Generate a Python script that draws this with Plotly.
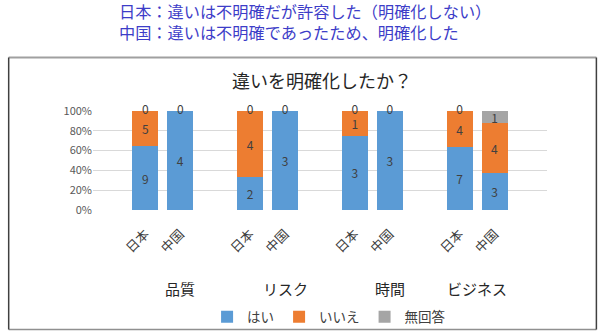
import plotly.graph_objects as go

groups = ["品質", "リスク", "時間", "ビジネス"]
countries = ["日本", "中国"]
series_names = ["はい", "いいえ", "無回答"]
colors = ["#5B9BD5", "#ED7D31", "#A5A5A5"]

# values per bar in order: 品質-日本, 品質-中国, リスク-日本, リスク-中国, 時間-日本, 時間-中国, ビジネス-日本, ビジネス-中国
hai = [9, 4, 2, 3, 3, 3, 7, 3]
iie = [5, 0, 4, 0, 1, 0, 4, 4]
mukaito = [0, 0, 0, 0, 0, 0, 0, 1]
series = [hai, iie, mukaito]

y_ticks = [0, 20, 40, 60, 80, 100]
y_tick_text = ["0%", "20%", "40%", "60%", "80%", "100%"]

title_text = "違いを明確化したか？"
note_lines = ["日本：違いは不明確だが許容した（明確化しない）",
              "中国：違いは不明確であったため、明確化した"]

FONT = "Noto Sans CJK JP"

# slot layout: each group takes 3 slots (2 bars + blank)
xpos = [1 + 3 * g + k for g in range(len(groups)) for k in range(len(countries))]
tick_text = [c for g in groups for c in countries]
group_label_x = [2, 5, 8, 10.5]

fig = go.Figure()
for name, vals, col in zip(series_names, series, colors):
    fig.add_trace(go.Bar(
        x=xpos, y=vals, name=name, marker=dict(color=col, line=dict(width=0)),
        width=0.74, text=[str(v) if v else "" for v in vals],
        textposition="inside", insidetextanchor="middle", textangle=0,
        constraintext="none",
        textfont=dict(family=FONT, size=12, color="#404040"),
    ))

# zero-value labels (drawn at their stacked position)
totals = [sum(s[i] for s in series) for i in range(len(xpos))]
zx, zy = [], []
for i in range(len(xpos)):
    cum = 0
    seen = False
    for s in series:
        cum += s[i]
        if s[i] == 0 and not seen:
            zx.append(xpos[i])
            zy.append(cum / totals[i] * 100)
            seen = True
fig.add_trace(go.Scatter(x=zx, y=zy, mode="text", text=["0"] * len(zx),
                         textfont=dict(family=FONT, size=12, color="#404040"),
                         showlegend=False, hoverinfo="skip", cliponaxis=False))

fig.update_layout(
    barmode="stack", barnorm="percent",
    width=607, height=331,
    margin=dict(l=92.5, r=59.5, t=111, b=121, autoexpand=False),
    paper_bgcolor="white", plot_bgcolor="white",
    font=dict(family=FONT, color="#595959"),
    showlegend=True,
    legend=dict(orientation="h", x=0.52, xanchor="center", y=-1.08, yanchor="middle",
                traceorder="normal", bgcolor="rgba(0,0,0,0)",
                font=dict(family=FONT, size=13.5, color="#404040"),
                itemwidth=30, tracegroupgap=0),
    xaxis=dict(range=[-0.5, 12.5], tickvals=xpos, ticktext=tick_text, tickangle=-45,
               showgrid=False, zeroline=False, showline=False, ticks="",
               ticklabelstandoff=13, automargin=False,
               tickfont=dict(family=FONT, size=13, color="#404040")),
    yaxis=dict(range=[0, 100], tickvals=y_ticks, ticktext=y_tick_text, showgrid=True,
               gridcolor="#D9D9D9", gridwidth=1, zeroline=False, showline=False,
               automargin=False,
               tickfont=dict(family=FONT, size=11, color="#595959")),
)

annotations = []
for gx, g in zip(group_label_x, groups):
    annotations.append(dict(x=gx, y=-0.788, xref="x", yref="paper", text=g, showarrow=False,
                            font=dict(family=FONT, size=15, color="#262626"),
                            xanchor="center", yanchor="middle"))
annotations.append(dict(x=0.505, y=1.313, xref="paper", yref="paper", text=title_text,
                        showarrow=False, font=dict(family=FONT, size=18, color="#262626"),
                        xanchor="center", yanchor="middle"))
annotations.append(dict(x=0.0538, y=(210.0 - 21.5) / 99.0, xref="paper", yref="paper",
                        text="<br>".join(note_lines), showarrow=False, align="left",
                        font=dict(family=FONT, size=16.2, color="#3D3DC8"),
                        xanchor="left", yanchor="middle"))
fig.update_layout(annotations=annotations)

# outer frame
def px_x(px):
    return (px - 92.5) / 455.0

def px_y(py):
    return (210.0 - py) / 99.0

fig.add_shape(type="line", xref="paper", yref="paper", x0=px_x(8), x1=px_x(597), y0=px_y(57.5), y1=px_y(57.5),
              line=dict(color="#A0A0A0", width=2))
fig.add_shape(type="line", xref="paper", yref="paper", x0=px_x(8), x1=px_x(597), y0=px_y(329.5), y1=px_y(329.5),
              line=dict(color="#909090", width=1.5))
fig.add_shape(type="line", xref="paper", yref="paper", x0=px_x(8), x1=px_x(8), y0=px_y(57.5), y1=px_y(329.5),
              line=dict(color="#404040", width=1.5))
fig.add_shape(type="line", xref="paper", yref="paper", x0=px_x(597), x1=px_x(597), y0=px_y(57.5), y1=px_y(329.5),
              line=dict(color="#404040", width=1.5))

fig.write_html("out.html")
